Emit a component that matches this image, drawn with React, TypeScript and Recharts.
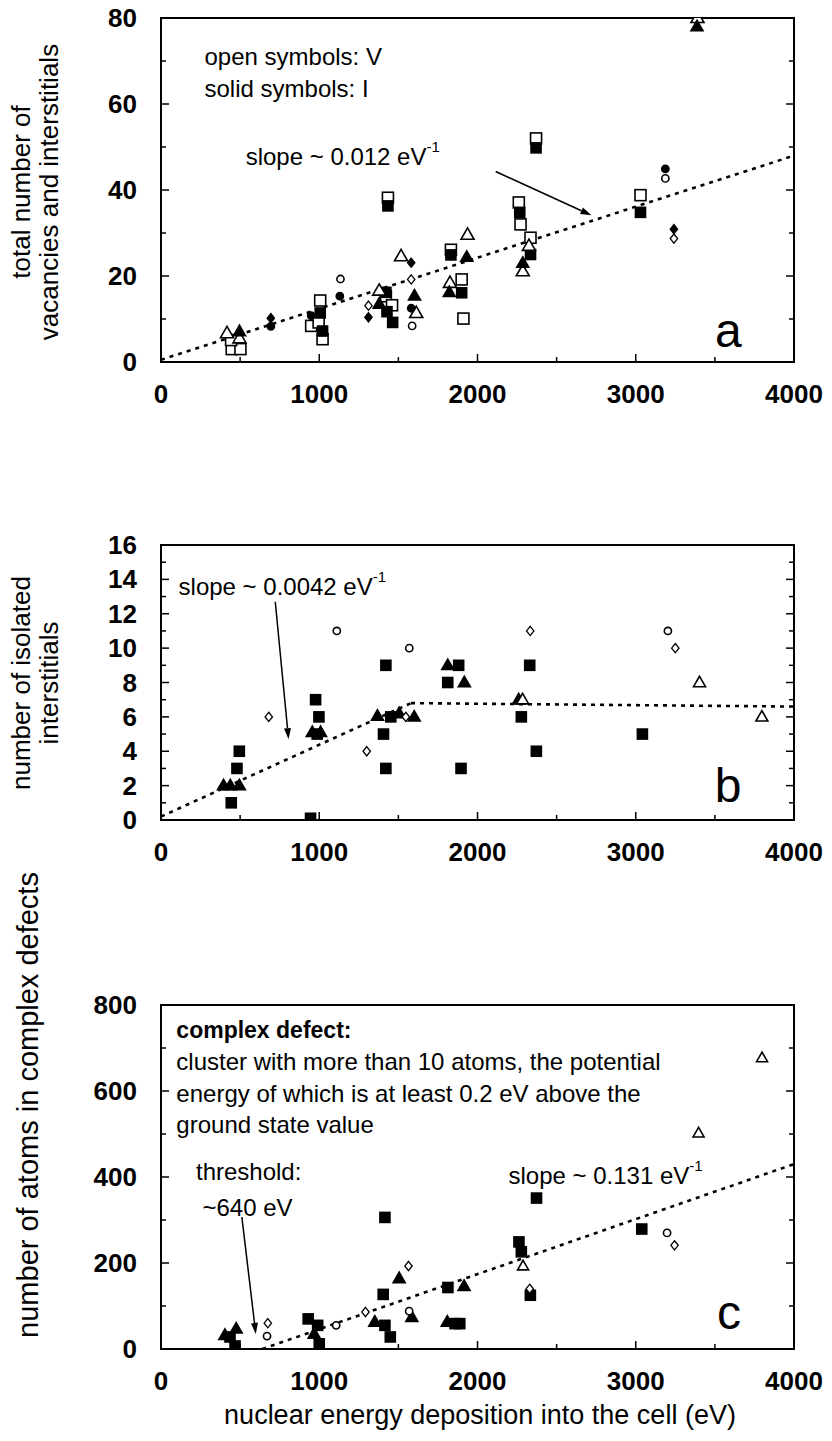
import React from 'react';
import {
  ScatterChart, Scatter, XAxis, YAxis, ReferenceArea, ReferenceLine, ReferenceDot
} from 'recharts';

type Pt = { x: number; y: number };

// x axis, shared by the three panels
const xTicks = [0, 500, 1000, 1500, 2000, 2500, 3000, 3500, 4000];

// panel a: total number of vacancies (open) and interstitials (solid)
const aTicks = [0, 10, 20, 30, 40, 50, 60, 70, 80];
const openSquareA: Pt[] = [
  { x: 447, y: 3 }, { x: 502, y: 3 }, { x: 443, y: 5.1 }, { x: 1021, y: 5.3 }, { x: 949, y: 8.4 },
  { x: 996, y: 9.2 }, { x: 1006, y: 14.3 }, { x: 1421, y: 15.3 }, { x: 1460, y: 13.2 }, { x: 1434, y: 38.2 },
  { x: 1832, y: 26.1 }, { x: 1900, y: 19.2 }, { x: 1911, y: 10.1 }, { x: 2261, y: 37.1 }, { x: 2272, y: 32 },
  { x: 2335, y: 28.9 }, { x: 2370, y: 52 }, { x: 3030, y: 38.8 },
];
const solidSquareA: Pt[] = [
  { x: 1021, y: 7.2 }, { x: 1006, y: 11.4 }, { x: 1421, y: 16.2 }, { x: 1428, y: 11.7 }, { x: 1464, y: 9.2 },
  { x: 1434, y: 36.3 }, { x: 1832, y: 24.9 }, { x: 1900, y: 16.1 }, { x: 2267, y: 34.8 }, { x: 2335, y: 25 },
  { x: 2370, y: 49.8 }, { x: 3030, y: 34.8 },
];
const openTriangleA: Pt[] = [
  { x: 417, y: 6.7 }, { x: 496, y: 5.5 }, { x: 1379, y: 16.6 }, { x: 1517, y: 24.6 }, { x: 1613, y: 11.4 },
  { x: 1826, y: 18.4 }, { x: 1937, y: 29.6 }, { x: 2286, y: 21.1 }, { x: 2325, y: 27 }, { x: 3390, y: 80 },
];
const solidTriangleA: Pt[] = [
  { x: 496, y: 7.1 }, { x: 1379, y: 13.5 }, { x: 1602, y: 15.4 }, { x: 1822, y: 16.2 }, { x: 1932, y: 24.4 },
  { x: 2286, y: 23 }, { x: 3387, y: 78 },
];
const openCircleA: Pt[] = [{ x: 1134, y: 19.3 }, { x: 1587, y: 8.4 }, { x: 3187, y: 42.7 }];
const solidCircleA: Pt[] = [
  { x: 694, y: 8.3 }, { x: 949, y: 10.8 }, { x: 1130, y: 15.3 }, { x: 1581, y: 12.5 }, { x: 3187, y: 44.9 },
];
const openDiamondA: Pt[] = [{ x: 1311, y: 13.1 }, { x: 1581, y: 19.2 }, { x: 3241, y: 28.7 }];
const solidDiamondA: Pt[] = [{ x: 694, y: 10.2 }, { x: 1311, y: 10.4 }, { x: 1581, y: 23.1 }, { x: 3241, y: 30.9 }];
const fitA: Pt[] = [{ x: 0, y: 0.5 }, { x: 4000, y: 48 }];
const arrowA: Pt[] = [{ x: 2115, y: 44.3 }, { x: 2720, y: 34.1 }];

// panel b: isolated interstitials
const bTicks = [0, 1, 2, 3, 4, 5, 6, 7, 8, 9, 10, 11, 12, 13, 14, 15, 16];
const solidSquareB: Pt[] = [
  { x: 444, y: 1 }, { x: 480, y: 3 }, { x: 495, y: 4 }, { x: 945, y: 0.1 }, { x: 987, y: 5 }, { x: 977, y: 7 },
  { x: 998, y: 6 }, { x: 1406, y: 5 }, { x: 1421, y: 3 }, { x: 1421, y: 9 }, { x: 1452, y: 6 }, { x: 1812, y: 8 },
  { x: 1881, y: 9 }, { x: 1896, y: 3 }, { x: 2277, y: 6 }, { x: 2330, y: 9 }, { x: 2372, y: 4 }, { x: 3042, y: 5 },
];
const solidTriangleB: Pt[] = [
  { x: 395, y: 2 }, { x: 438, y: 2 }, { x: 495, y: 2 }, { x: 956, y: 5.1 }, { x: 1008, y: 5.1 }, { x: 1368, y: 6.05 },
  { x: 1505, y: 6.2 }, { x: 1600, y: 6 }, { x: 1812, y: 9 }, { x: 1917, y: 8 }, { x: 2260, y: 7 },
];
const openTriangleB: Pt[] = [{ x: 2285, y: 7 }, { x: 3403, y: 8 }, { x: 3797, y: 6 }];
const openCircleB: Pt[] = [{ x: 1111, y: 11 }, { x: 1569, y: 10 }, { x: 3203, y: 11 }];
const openDiamondB: Pt[] = [
  { x: 681, y: 6 }, { x: 1300, y: 4 }, { x: 1547, y: 6 }, { x: 2333, y: 11 }, { x: 3250, y: 10 },
];
const fitB: Pt[] = [{ x: 0, y: 0.2 }, { x: 1580, y: 6.8 }, { x: 4000, y: 6.6 }];
const arrowB: Pt[] = [{ x: 722, y: 12.7 }, { x: 806, y: 4.7 }];

// panel c: atoms in complex defects
const cTicks = [0, 100, 200, 300, 400, 500, 600, 700, 800];
const solidSquareC: Pt[] = [
  { x: 436, y: 28 }, { x: 468, y: 7 }, { x: 930, y: 70 }, { x: 990, y: 55 }, { x: 1000, y: 12 }, { x: 1404, y: 127 },
  { x: 1415, y: 306 }, { x: 1415, y: 55 }, { x: 1449, y: 28 }, { x: 1813, y: 143 }, { x: 1858, y: 59 },
  { x: 1888, y: 59 }, { x: 2262, y: 249 }, { x: 2277, y: 226 }, { x: 2334, y: 125 }, { x: 2373, y: 351 },
  { x: 3038, y: 279 },
];
const solidTriangleC: Pt[] = [
  { x: 404, y: 32 }, { x: 475, y: 47 }, { x: 968, y: 35 }, { x: 1351, y: 63 }, { x: 1505, y: 164 },
  { x: 1585, y: 74 }, { x: 1809, y: 63 }, { x: 1915, y: 146 },
];
const openTriangleC: Pt[] = [{ x: 2288, y: 193 }, { x: 3397, y: 502 }, { x: 3798, y: 677 }];
const openCircleC: Pt[] = [{ x: 670, y: 30 }, { x: 1107, y: 55 }, { x: 1568, y: 88 }, { x: 3198, y: 270 }];
const openDiamondC: Pt[] = [
  { x: 675, y: 60 }, { x: 1292, y: 86 }, { x: 1564, y: 193 }, { x: 2330, y: 140 }, { x: 3245, y: 241 },
];
const fitC: Pt[] = [{ x: 640, y: 0 }, { x: 4000, y: 430 }];
const arrowC: Pt[] = [{ x: 511, y: 307 }, { x: 599, y: 35 }];

const FONT = '"Liberation Sans", Arial, Helvetica, sans-serif';
const W = 832;
const PLOT_LEFT = 161;
const PLOT_RIGHT = 794;

type Kind = 'square' | 'triangle' | 'circle' | 'diamond';

const Marker = ({ cx, cy, kind, open, s }: any) => {
  if (cx == null || cy == null) return null;
  const fill = open ? '#fff' : '#000';
  const common = { fill, stroke: '#000', strokeWidth: 1.6 };
  if (kind === 'square') {
    return <rect x={cx - s / 2} y={cy - s / 2} width={s} height={s} {...common} />;
  }
  if (kind === 'triangle') {
    const h = s * 0.87;
    return <polygon points={`${cx},${cy - h * 0.6} ${cx - s / 2},${cy + h * 0.4} ${cx + s / 2},${cy + h * 0.4}`} {...common} />;
  }
  if (kind === 'circle') {
    return <circle cx={cx} cy={cy} r={s * 0.36} {...common} />;
  }
  const d = s * 0.42;
  return <polygon points={`${cx},${cy - d} ${cx + d * 0.8},${cy} ${cx},${cy + d} ${cx - d * 0.8},${cy}`} {...common} strokeWidth={1.3} />;
};

const series = (data: Pt[], kind: Kind, open: boolean, s: number, key: string) => (
  <Scatter
    key={key}
    data={data}
    isAnimationActive={false}
    shape={(p: any) => <Marker cx={p.cx} cy={p.cy} kind={kind} open={open} s={s} />}
  />
);

const XTick = ({ x, y, payload }: any) => {
  const major = payload.value % 1000 === 0;
  return (
    <g>
      <line x1={x} x2={x} y1={y} y2={y - (major ? 8 : 5)} stroke="#000" strokeWidth={1.5} />
      {major && (
        <text x={x} y={y + 41} textAnchor="middle" fontFamily={FONT} fontWeight="bold" fontSize={26} fill="#000">
          {payload.value}
        </text>
      )}
    </g>
  );
};

const makeYTick = (step: number) => ({ x, y, payload }: any) => {
  const major = payload.value % step === 0;
  const len = major ? 8 : 5;
  return (
    <g>
      <line x1={x} x2={x + len} y1={y} y2={y} stroke="#000" strokeWidth={1.5} />
      <line x1={PLOT_RIGHT} x2={PLOT_RIGHT - len} y1={y} y2={y} stroke="#000" strokeWidth={1.5} />
      {major && (
        <text x={x - 24} y={y + 9} textAnchor="end" fontFamily={FONT} fontWeight="bold" fontSize={26} fill="#000">
          {payload.value}
        </text>
      )}
    </g>
  );
};

const note = (key: string, x: number, y: number, body: React.ReactNode, opts: any = {}) => (
  <ReferenceDot
    key={key}
    x={x}
    y={y}
    r={0}
    ifOverflow="visible"
    shape={(p: any) => (
      <text x={p.cx} y={p.cy} dominantBaseline="central" fontFamily={FONT} fontSize={opts.size || 24}
        fontWeight={opts.bold ? 'bold' : 'normal'} textAnchor={opts.anchor || 'start'} fill="#000">
        {body}
      </text>
    )}
  />
);

const slope = (v: string) => [
  <tspan key="a">slope ~ {v} eV</tspan>,
  <tspan key="b" dy={-10} fontSize={15}>-1</tspan>,
];

const arrow = (key: string, pts: Pt[]) => (
  <ReferenceLine
    key={key}
    segment={pts}
    ifOverflow="visible"
    shape={(p: any) => {
      const { x1, y1, x2, y2 } = p;
      const a = Math.atan2(y2 - y1, x2 - x1);
      const L = 11, w = 3.5;
      const bx = x2 - L * Math.cos(a), by = y2 - L * Math.sin(a);
      const nx = -Math.sin(a) * w, ny = Math.cos(a) * w;
      return (
        <g>
          <line x1={x1} y1={y1} x2={bx} y2={by} stroke="#000" strokeWidth={1.5} />
          <polygon points={`${x2},${y2} ${bx + nx},${by + ny} ${bx - nx},${by - ny}`} fill="#000" />
        </g>
      );
    }}
  />
);

const fitLines = (key: string, pts: Pt[]) =>
  pts.slice(1).map((p, i) => (
    <ReferenceLine key={key + i} segment={[pts[i], p]} stroke="#000" strokeWidth={2.6} strokeDasharray="4 5" ifOverflow="visible" />
  ));

const Panel = ({ top, plotHeight, marginTop, yMax, yTicks, yStep, children }: any) => (
  <div style={{ position: 'absolute', left: 0, top }}>
    <ScatterChart width={W} height={marginTop + plotHeight + 54} margin={{ top: marginTop, right: W - PLOT_RIGHT, bottom: 0, left: 0 }}>
      <XAxis type="number" dataKey="x" domain={[0, 4000]} ticks={xTicks} interval={0} height={54}
        axisLine={false} tickLine={false} tickSize={0} tickMargin={0} tick={<XTick />} allowDataOverflow />
      <YAxis type="number" dataKey="y" domain={[0, yMax]} ticks={yTicks} interval={0} width={PLOT_LEFT}
        axisLine={false} tickLine={false} tickSize={0} tickMargin={0} tick={makeYTick(yStep)} allowDataOverflow />
      <ReferenceArea x1={0} x2={4000} y1={0} y2={yMax} fill="none" fillOpacity={0} stroke="#000" strokeWidth={2} ifOverflow="visible" />
      {children}
    </ScatterChart>
  </div>
);

const AxisTitle = ({ x, y, lines, size = 26, gap = 28 }: any) => (
  <text transform={`translate(${x},${y}) rotate(-90)`} textAnchor="middle" fontFamily={FONT} fontSize={size} fill="#000">
    {lines.map((l: string, i: number) => (
      <tspan key={i} x={0} dy={i === 0 ? 0 : gap}>{l}</tspan>
    ))}
  </text>
);

export default function App() {
  return (
    <div style={{ position: 'absolute', left: 0, top: 0, width: W, height: 1441, background: '#fff' }}>
      <Panel top={0} plotHeight={344} marginTop={18} yMax={80} yTicks={aTicks} yStep={20}>
        {fitLines('fa', fitA)}
        {arrow('arA', arrowA)}
        {series(openSquareA, 'square', true, 11, 'osa')}
        {series(solidSquareA, 'square', false, 10, 'ssa')}
        {series(openTriangleA, 'triangle', true, 13, 'ota')}
        {series(solidTriangleA, 'triangle', false, 12, 'sta')}
        {series(openCircleA, 'circle', true, 10, 'oca')}
        {series(solidCircleA, 'circle', false, 10, 'sca')}
        {series(openDiamondA, 'diamond', true, 11, 'oda')}
        {series(solidDiamondA, 'diamond', false, 11, 'sda')}
        {note('t1', 275, 71, 'open symbols: V')}
        {note('t2', 275, 63.7, 'solid symbols: I')}
        {note('t3', 535, 48, slope('0.012'))}
        {note('t4', 3585, 7.4, 'a', { size: 48, anchor: 'middle' })}
      </Panel>

      <Panel top={520} plotHeight={275} marginTop={25} yMax={16} yTicks={bTicks} yStep={2}>
        {fitLines('fb', fitB)}
        {arrow('arB', arrowB)}
        {series(solidSquareB, 'square', false, 10, 'ssb')}
        {series(solidTriangleB, 'triangle', false, 12, 'stb')}
        {series(openTriangleB, 'triangle', true, 12, 'otb')}
        {series(openCircleB, 'circle', true, 10, 'ocb')}
        {series(openDiamondB, 'diamond', true, 11, 'odb')}
        {note('u1', 111, 13.6, slope('0.0042'))}
        {note('u2', 3584, 2.0, 'b', { size: 48, anchor: 'middle' })}
      </Panel>

      <Panel top={985} plotHeight={344} marginTop={20} yMax={800} yTicks={cTicks} yStep={200}>
        {fitLines('fc', fitC)}
        {arrow('arC', arrowC)}
        {series(solidSquareC, 'square', false, 10, 'ssc')}
        {series(solidTriangleC, 'triangle', false, 12, 'stc')}
        {series(openTriangleC, 'triangle', true, 11, 'otc')}
        {series(openCircleC, 'circle', true, 10, 'occ')}
        {series(openDiamondC, 'diamond', true, 11, 'odc')}
        {note('v1', 97, 743, 'complex defect:', { bold: true, size: 23 })}
        {note('v2', 97, 669, 'cluster with more than 10 atoms, the potential')}
        {note('v3', 97, 595, 'energy of which is at least 0.2 eV above the')}
        {note('v4', 97, 521, 'ground state value')}
        {note('v5', 221, 412, 'threshold:')}
        {note('v6', 262, 330, '~640 eV')}
        {note('v7', 2196, 405, slope('0.131'))}
        {note('v8', 3590, 86, 'c', { size: 48, anchor: 'middle' })}
      </Panel>

      <svg width={W} height={1441} style={{ position: 'absolute', left: 0, top: 0, pointerEvents: 'none' }}>
        <AxisTitle x={30} y={192} lines={['total number of', 'vacancies and interstitials']} />
        <AxisTitle x={30} y={683} lines={['number of isolated', 'interstitials']} />
        <AxisTitle x={38} y={1105} lines={['number of atoms in complex defects']} size={29} />
        <text x={480} y={1424} textAnchor="middle" fontFamily={FONT} fontSize={27} fill="#000">
          nuclear energy deposition into the cell (eV)
        </text>
      </svg>
    </div>
  );
}
